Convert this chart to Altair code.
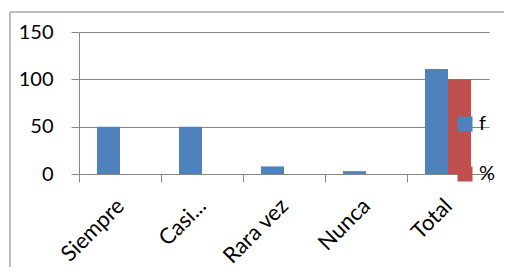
import altair as alt
import pandas as pd

categories = ["Siempre", "Casi...", "Rara vez", "Nunca", "Total"]
f_values = [50, 50, 8, 3, 111]
pct_values = [0, 0, 0, 0, 100]
series = ["f", "%"]
colors = ["#4F81BD", "#C0504D"]

rows = []
for c, fv, pv in zip(categories, f_values, pct_values):
    rows.append({"cat": c, "serie": "f", "val": fv})
    rows.append({"cat": c, "serie": "%", "val": pv})
df = pd.DataFrame(rows)

FONT = "Lato"
GREY = "#868686"

bars = alt.Chart(df).mark_bar().encode(
    x=alt.X("cat:N", sort=categories, title=None,
            scale=alt.Scale(paddingInner=0, paddingOuter=0),
            axis=alt.Axis(tickBand="extent", labelAngle=315, labelAlign="right",
                          labelBaseline="middle", labelPadding=20,
                          tickSize=8,
                          tickColor=GREY, domainColor=GREY, labelFont=FONT,
                          labelFontSize=22, labelColor="black", grid=False)),
    xOffset=alt.XOffset("serie:N", sort=series,
                        scale=alt.Scale(paddingInner=0, paddingOuter=0.78)),
    y=alt.Y("val:Q", title=None,
            scale=alt.Scale(domain=[0, 150]),
            axis=alt.Axis(values=[0, 50, 100, 150], tickSize=8, tickColor=GREY,
                          domainColor=GREY, gridColor=GREY, labelFont=FONT,
                          labelFontSize=20, labelColor="black", labelPadding=18)),
    color=alt.Color("serie:N", sort=series, title=None,
                    scale=alt.Scale(domain=series, range=colors),
                    legend=alt.Legend(orient="none", legendX=376, legendY=82,
                                      symbolType="square", symbolSize=225,
                                      symbolStrokeWidth=0, labelFont=FONT,
                                      labelFontSize=20, labelColor="black",
                                      rowPadding=30, padding=0, labelOffset=4)),
)

border = alt.Chart(pd.DataFrame({"a": [0]})).mark_rect(
    fill=None, stroke="#7f7f7f", strokeWidth=1, clip=False
).encode(x=alt.value(-69), x2=alt.value(700), y=alt.value(-20), y2=alt.value(400))

chart = alt.layer(border, bars).properties(
    width=410, height=142,
    autosize=alt.AutoSizeParams(type="none"),
    padding={"left": 71, "top": 24, "right": 15, "bottom": 93},
).configure_view(stroke=None)

chart.save("out.html", embed_options={"renderer": "svg", "actions": False})
